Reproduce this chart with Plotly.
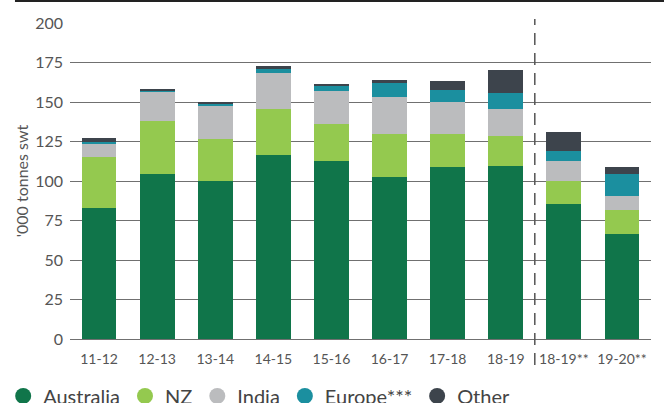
import plotly.graph_objects as go

categories = ["11-12", "12-13", "13-14", "14-15", "15-16", "16-17", "17-18", "18-19", "18-19**", "19-20**"]
australia = [83.1, 104.6, 100.2, 116.6, 112.8, 102.7, 109.1, 109.7, 85.6, 66.6]
nz = [32.3, 33.6, 26.6, 29.2, 23.5, 27.2, 20.8, 19.0, 14.6, 15.2]
india = [8.2, 18.3, 20.9, 22.7, 20.9, 23.5, 20.3, 17.1, 12.6, 8.9]
europe = [1.3, 0.7, 1.2, 2.6, 3.1, 8.8, 7.6, 10.1, 6.4, 13.9]
other = [2.5, 0.6, 1.3, 1.9, 1.3, 1.9, 5.7, 14.5, 12.0, 4.5]

series = [
    ("Australia", australia, "#10754a"),
    ("NZ", nz, "#94c94f"),
    ("India", india, "#bbbcbe"),
    ("Europe***", europe, "#1b8f9f"),
    ("Other", other, "#3d444c"),
]

FONT = "Lato"
fig = go.Figure()
for name, vals, col in series:
    fig.add_trace(go.Bar(x=categories, y=vals, name=name, marker=dict(color=col, line=dict(width=0)),
                         showlegend=False))
for name, vals, col in series:
    fig.add_trace(go.Scatter(x=[None], y=[None], mode="markers", name=name,
                             marker=dict(color=col, size=16, symbol="circle")))

fig.update_layout(
    width=664, height=403,
    margin=dict(l=70, r=13, t=23, b=64, autoexpand=False),
    barmode="stack", bargap=0.4,
    plot_bgcolor="white", paper_bgcolor="white",
    font=dict(family=FONT, color="#444"),
    showlegend=True,
    legend=dict(orientation="h", traceorder="normal", x=-0.115, xanchor="left", y=-0.18, yanchor="middle",
                font=dict(size=20, color="#444", family=FONT), itemclick=False,
                bgcolor="rgba(0,0,0,0)"),
    xaxis=dict(type="category", showgrid=False, tickfont=dict(size=14, color="#555"),
               ticks="", ticklabelstandoff=10, range=[-0.5, 9.5], showline=False, zeroline=False),
    yaxis=dict(range=[0, 200], tickvals=[0, 25, 50, 75, 100, 125, 150, 175, 200],
               showgrid=True, gridcolor="#707070", gridwidth=1, zeroline=True, zerolinecolor="#707070",
               zerolinewidth=1, tickfont=dict(size=16, color="#555"), ticks="", ticklabelstandoff=6,
               title=dict(text="'000 tonnes swt", font=dict(size=16, color="#555"), standoff=2)),
    shapes=[
        dict(type="line", xref="x", yref="paper", x0=7.5, x1=7.5, y0=-0.082, y1=1.013,
             line=dict(color="#555", width=1.5, dash="12px,8px")),
        dict(type="line", xref="paper", yref="paper", x0=-0.0947, x1=1.03, y0=1.0695, y1=1.0695,
             line=dict(color="#222", width=2)),
    ],
)

fig.write_html("out.html", config={"displayModeBar": False},
               post_script="document.body.style.margin='0';document.body.style.overflow='hidden';")
